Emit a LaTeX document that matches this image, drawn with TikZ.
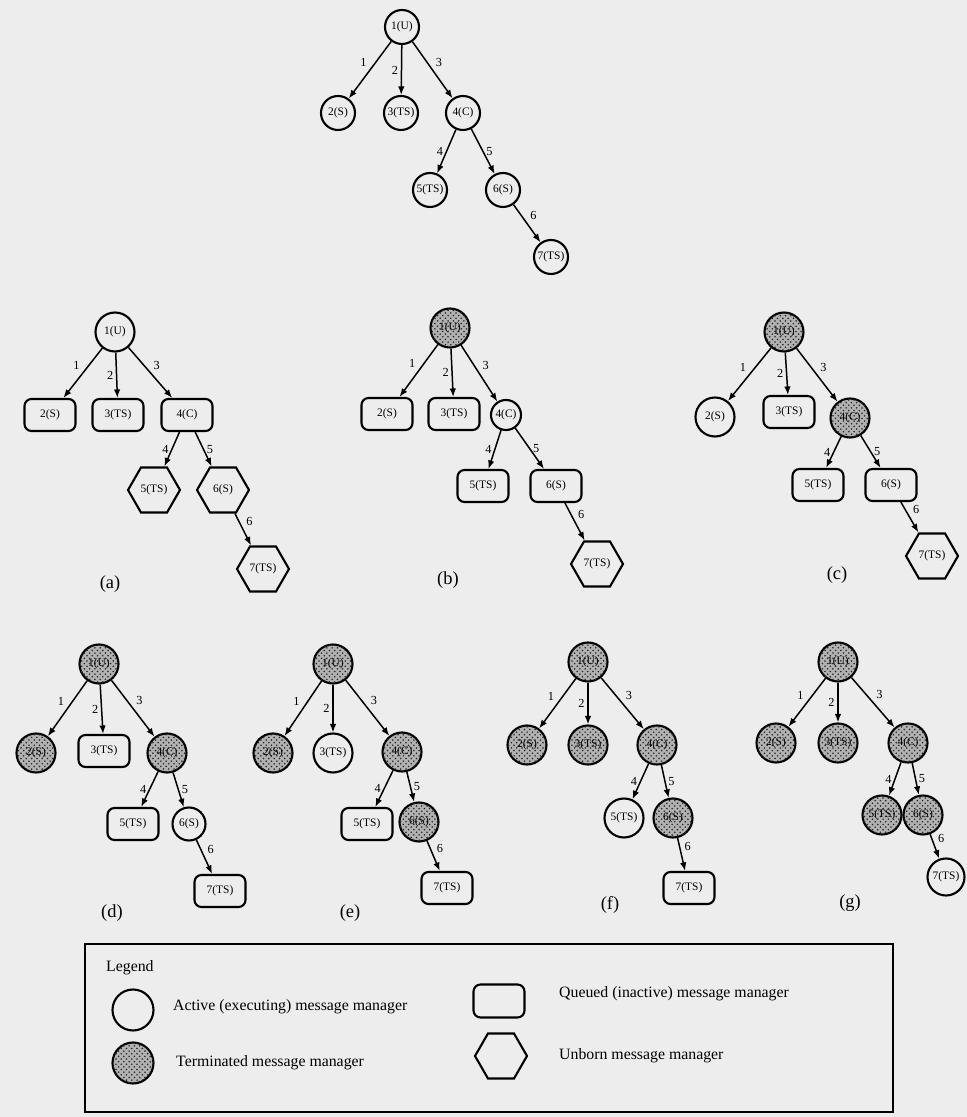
\documentclass[tikz,border=0pt]{standalone}
\usepackage{fontspec}
\setmainfont{Liberation Serif}
\usetikzlibrary{shapes.geometric, arrows.meta, patterns}

% the six numbered forks of one tree, nodes named <prefix>-1 ... <prefix>-7
\newcommand{\mmedges}[1]{%
  \draw[link] (#1-1) -- node[num, above left] {1} (#1-2);
  \draw[link] (#1-1) -- node[num, left] {2} (#1-3);
  \draw[link] (#1-1) -- node[num, above right] {3} (#1-4);
  \draw[link] (#1-4) -- node[num, left] {4} (#1-5);
  \draw[link] (#1-4) -- node[num, right] {5} (#1-6);
  \draw[link] (#1-6) -- node[num, above right] {6} (#1-7);
}

\begin{document}
\begin{tikzpicture}[
  >={Latex[length=1.7mm,width=1.3mm]},
  mm/.style={font=\fontsize{6.5}{7}\selectfont, inner sep=1pt, line width=1.2pt},
  active/.style={mm, draw, circle, minimum size=0.78cm},
  termd/.style={mm, draw, circle, minimum size=0.78cm, fill=gray!60,
    postaction={pattern=crosshatch dots, pattern color=black!85}},
  queued/.style={mm, draw, rounded corners=4pt, minimum width=1.02cm, minimum height=0.64cm},
  unborn/.style={mm, draw, regular polygon, regular polygon sides=6, minimum size=1.04cm},
  link/.style={->, line width=0.85pt},
  num/.style={font=\fontsize{7}{8}\selectfont, inner sep=1.5pt},
  caption/.style={font=\fontsize{10.5}{12}\selectfont},
  legtext/.style={font=\fontsize{9}{10}\selectfont, anchor=west}
]
\useasboundingbox (0,0) rectangle (19.34,22.34);
\fill[black!7] (0,0) rectangle (19.34,22.34);

% Initial tree: everyone active
\node[active, minimum size=0.68cm] (t-1) at (8.04,21.80) {1(U)};
\node[active, minimum size=0.68cm] (t-2) at (6.76,20.08) {2(S)};
\node[active, minimum size=0.68cm] (t-3) at (8.02,20.08) {3(TS)};
\node[active, minimum size=0.68cm] (t-4) at (9.26,20.08) {4(C)};
\node[active, minimum size=0.68cm] (t-5) at (8.60,18.54) {5(TS)};
\node[active, minimum size=0.68cm] (t-6) at (10.06,18.54) {6(S)};
\node[active, minimum size=0.68cm] (t-7) at (11.02,17.20) {7(TS)};
\mmedges{t}

% (a)
\node[active] (a-1) at (2.30,15.70) {1(U)};
\node[queued] (a-2) at (1.00,14.04) {2(S)};
\node[queued] (a-3) at (2.36,14.04) {3(TS)};
\node[queued] (a-4) at (3.74,14.04) {4(C)};
\node[unborn] (a-5) at (3.08,12.54) {5(TS)};
\node[unborn] (a-6) at (4.46,12.54) {6(S)};
\node[unborn] (a-7) at (5.26,10.96) {7(TS)};
\mmedges{a}
\node[caption] (cap-a) at (2.20,10.66) {(a)};

% (b)
\node[termd] (b-1) at (9.00,15.78) {1(U)};
\node[queued] (b-2) at (7.74,14.06) {2(S)};
\node[queued] (b-3) at (9.08,14.06) {3(TS)};
\node[active, minimum size=0.6cm] (b-4) at (10.12,14.04) {4(C)};
\node[queued] (b-5) at (9.66,12.62) {5(TS)};
\node[queued] (b-6) at (11.12,12.62) {6(S)};
\node[unborn] (b-7) at (11.94,11.06) {7(TS)};
\mmedges{b}
\node[caption] (cap-b) at (8.96,10.74) {(b)};

% (c)
\node[termd] (c-1) at (15.68,15.70) {1(U)};
\node[active] (c-2) at (14.30,14.00) {2(S)};
\node[queued] (c-3) at (15.78,14.10) {3(TS)};
\node[termd] (c-4) at (17.00,13.98) {4(C)};
\node[queued] (c-5) at (16.36,12.64) {5(TS)};
\node[queued] (c-6) at (17.82,12.64) {6(S)};
\node[unborn] (c-7) at (18.64,11.22) {7(TS)};
\mmedges{c}
\node[caption] (cap-c) at (16.74,10.84) {(c)};

% (d)
\node[termd] (d-1) at (1.98,9.06) {1(U)};
\node[termd] (d-2) at (0.72,7.28) {2(S)};
\node[queued] (d-3) at (2.08,7.32) {3(TS)};
\node[termd] (d-4) at (3.34,7.28) {4(C)};
\node[queued] (d-5) at (2.66,5.86) {5(TS)};
\node[active, minimum size=0.66cm] (d-6) at (3.78,5.86) {6(S)};
\node[queued] (d-7) at (4.40,4.52) {7(TS)};
\mmedges{d}
\node[caption] (cap-d) at (2.24,4.08) {(d)};

% (e)
\node[termd] (e-1) at (6.66,9.06) {1(U)};
\node[termd] (e-2) at (5.46,7.28) {2(S)};
\node[active] (e-3) at (6.66,7.28) {3(TS)};
\node[termd] (e-4) at (8.04,7.30) {4(C)};
\node[queued] (e-5) at (7.34,5.86) {5(TS)};
\node[termd] (e-6) at (8.38,5.90) {6(S)};
\node[queued] (e-7) at (8.94,4.58) {7(TS)};
\mmedges{e}
\node[caption] (cap-e) at (7.00,4.08) {(e)};

% (f)
\node[termd] (f-1) at (11.76,9.10) {1(U)};
\node[termd] (f-2) at (10.54,7.44) {2(S)};
\node[termd] (f-3) at (11.76,7.44) {3(TS)};
\node[termd] (f-4) at (13.14,7.44) {4(C)};
\node[active] (f-5) at (12.48,5.98) {5(TS)};
\node[termd] (f-6) at (13.46,5.98) {6(S)};
\node[queued] (f-7) at (13.78,4.58) {7(TS)};
\mmedges{f}
\node[caption] (cap-f) at (12.20,4.24) {(f)};

% (g)
\node[termd] (g-1) at (16.76,9.10) {1(U)};
\node[termd] (g-2) at (15.52,7.48) {2(S)};
\node[termd] (g-3) at (16.76,7.48) {3(TS)};
\node[termd] (g-4) at (18.16,7.48) {4(C)};
\node[termd] (g-5) at (17.64,6.04) {5(TS)};
\node[termd] (g-6) at (18.46,6.04) {6(S)};
\node[active, minimum size=0.74cm] (g-7) at (18.92,4.80) {7(TS)};
\mmedges{g}
\node[caption] (cap-g) at (17.00,4.28) {(g)};

% Legend
\draw[line width=1.2pt] (1.70,0.10) rectangle (17.86,3.46);
\node[legtext] (leg) at (2.00,2.98) {Legend};
\node[active, minimum size=0.82cm] (k-act) at (2.66,2.14) {};
\node[legtext] at (3.34,2.20) {Active (executing) message manager};
\node[termd, minimum size=0.82cm] (k-term) at (2.66,1.08) {};
\node[legtext] at (3.40,1.08) {Terminated message manager};
\node[queued, minimum height=0.66cm] (k-queue) at (9.98,2.32) {};
\node[legtext] at (11.06,2.46) {Queued (inactive) message manager};
\node[unborn] (k-unborn) at (10.02,1.22) {};
\node[legtext] at (11.06,1.22) {Unborn message manager};

\end{tikzpicture}
\end{document}
